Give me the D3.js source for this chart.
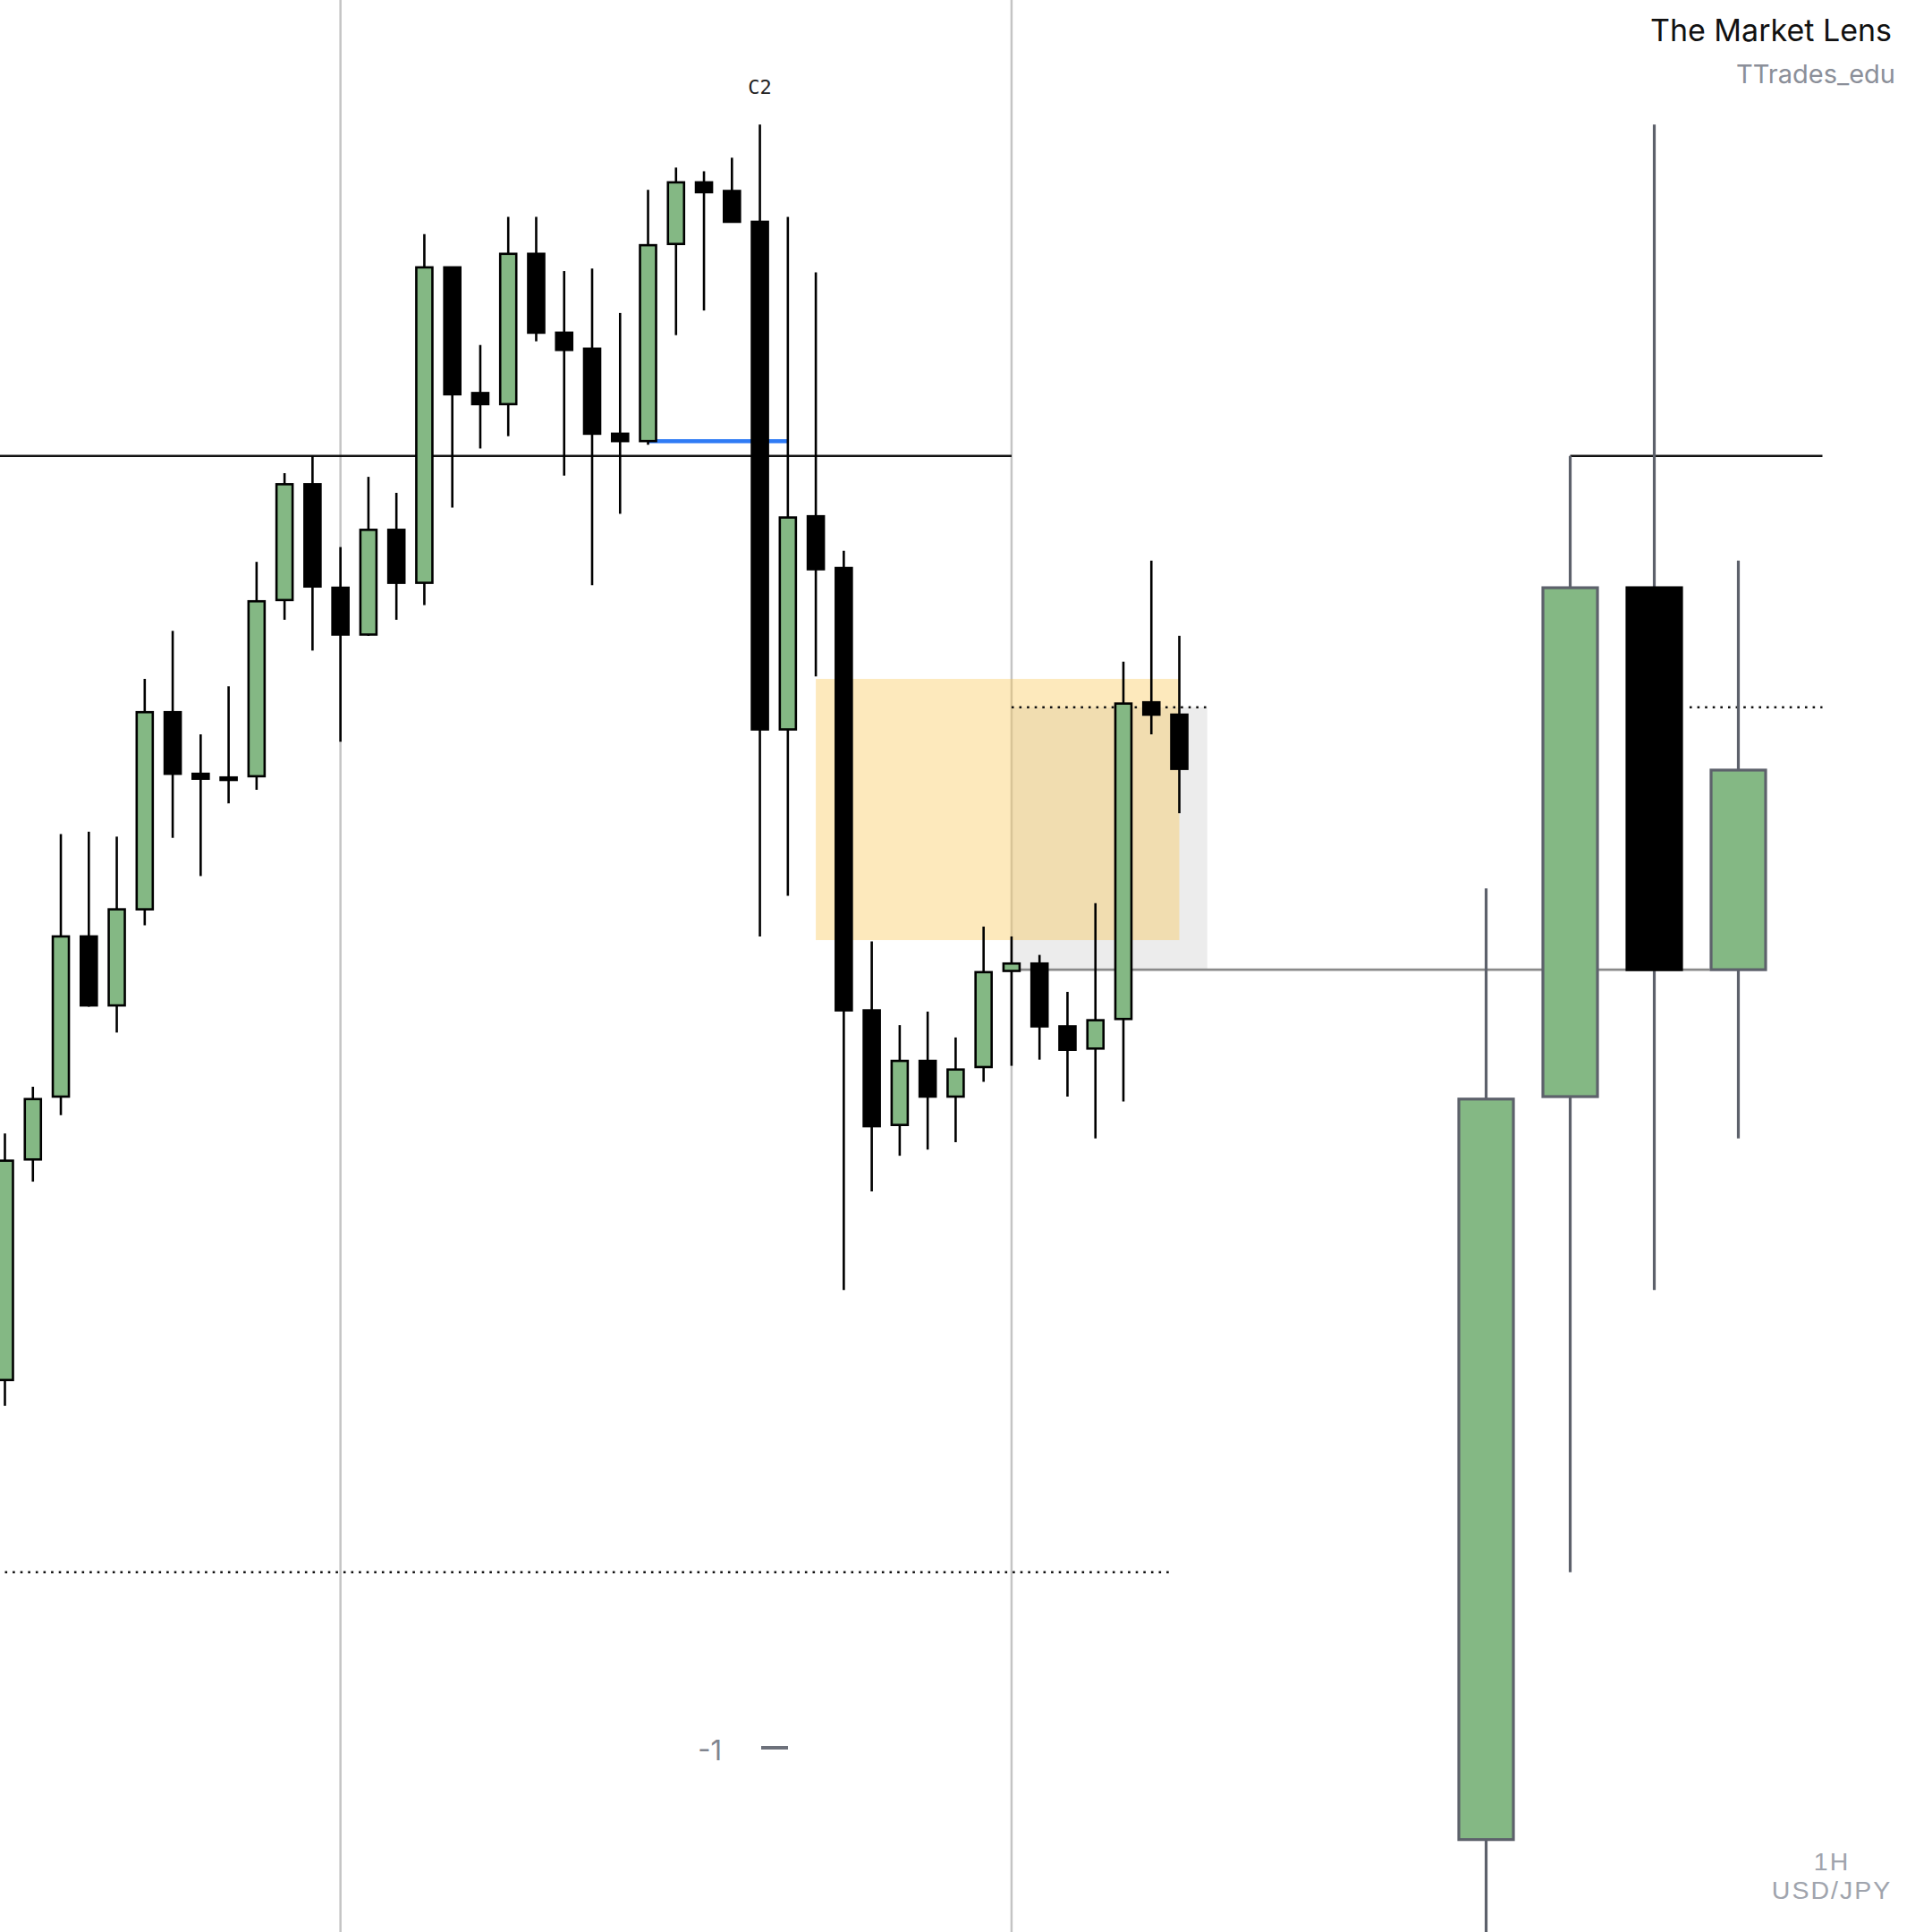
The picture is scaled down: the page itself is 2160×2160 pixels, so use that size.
<!DOCTYPE html>
<html><head><meta charset="utf-8">
<script src="https://cdn.jsdelivr.net/npm/d3@7"></script>
<style>html,body{margin:0;padding:0;background:#fff;} svg{display:block;}</style>
</head><body>
<script>
// ---- Lower timeframe (1H) candles, USD/JPY ----
const ltfOpen  = [150.880,151.059,151.110,151.240,151.184,151.262,151.422,151.372,151.369,151.370,151.513,151.607,151.523,151.485,151.570,151.527,151.783,151.681,151.672,151.794,151.730,151.717,151.648,151.642,151.802,151.852,151.845,151.820,151.408,151.581,151.539,151.180,151.087,151.139,151.110,151.134,151.212,151.218,151.167,151.149,151.173,151.430,151.420];
const ltfHigh  = [151.080,151.118,151.323,151.325,151.321,151.449,151.488,151.404,151.443,151.544,151.616,151.630,151.556,151.613,151.600,151.810,151.783,151.720,151.824,151.824,151.780,151.782,151.746,151.846,151.864,151.861,151.872,151.899,151.824,151.779,151.553,151.236,151.168,151.179,151.158,151.248,151.240,151.225,151.195,151.267,151.463,151.545,151.484];
const ltfLow   = [150.859,151.041,151.095,151.183,151.162,151.249,151.320,151.289,151.348,151.359,151.497,151.472,151.398,151.484,151.497,151.509,151.588,151.636,151.646,151.723,151.614,151.525,151.583,151.639,151.728,151.748,151.820,151.240,151.273,151.451,150.953,151.033,151.062,151.067,151.073,151.122,151.135,151.140,151.110,151.076,151.106,151.404,151.340];
const ltfClose = [151.058,151.108,151.240,151.184,151.262,151.422,151.372,151.368,151.367,151.512,151.607,151.524,151.485,151.570,151.527,151.783,151.680,151.672,151.794,151.730,151.716,151.648,151.642,151.801,151.852,151.844,151.820,151.408,151.580,151.538,151.180,151.086,151.139,151.110,151.132,151.211,151.218,151.167,151.148,151.172,151.429,151.420,151.376];

// ---- Higher timeframe candles (right panel) ----
const htfOpen  = [150.507,151.110,151.523,151.213];
const htfHigh  = [151.279,151.630,151.899,151.545];
const htfLow   = [150.400,150.724,150.953,151.076];
const htfClose = [151.108,151.523,151.213,151.375];

// ---- Annotations (indices on the 1H axis, prices) ----
const sessionLineIdx = [12, 36];
const keyLevel = 151.630;            // black horizontal level
const keyLevelLtfEnd = 36;           // left segment ends at this 1H index
const keyLevelHtfRange = [1, 4];     // right segment (HTF index)
const sweepLevel = 151.642, sweepRange = [23, 28];   // blue line
const fvgPrices = [151.449, 151.237], fvgRange = [29, 42];
const boxPrices = [151.426, 151.213], boxRange = [36, 43];
const midLevel = 151.426, midLtfRange = [36, 43], midHtfRange = [2.42, 4];
const closeLevel = 151.213, closeLtfStart = 36, closeHtfEnd = 2.66;
const lowLevel = 150.724, lowRange = [0, 41.8];
const c2Index = 27, c2Label = "C2";
const footerLines = ["1H", "USD/JPY"];

const W = 2160, H = 2160;
const svg = d3.select("body").append("svg").attr("width", W).attr("height", H);

const y  = d3.scaleLinear().domain([152.000, 150.432]).range([0, H]);
const xL = d3.scaleLinear().domain([0, 42]).range([5.5, 1318.5]);
const xR = d3.scaleLinear().domain([0, 3]).range([1661.5, 1943.5]);

const ltf = ltfOpen.map((o, i) => ({i, o, h: ltfHigh[i], l: ltfLow[i], c: ltfClose[i]}));
const htf = htfOpen.map((o, i) => ({i, o, h: htfHigh[i], l: htfLow[i], c: htfClose[i]}));

const GREEN = "#84b884";

// gray box
svg.append("rect")
  .attr("x", xL(boxRange[0])).attr("width", xL(boxRange[1]) - xL(boxRange[0]))
  .attr("y", y(boxPrices[0])).attr("height", y(boxPrices[1]) - y(boxPrices[0]))
  .attr("fill", "#ececec");

// session vertical lines
svg.selectAll("line.vsess").data(sessionLineIdx).join("line")
  .attr("x1", d => xL(d)).attr("x2", d => xL(d)).attr("y1", 0).attr("y2", H)
  .attr("stroke", "#c4c4c4").attr("stroke-width", 2.5);

// FVG box (semi-transparent orange)
svg.append("rect")
  .attr("x", xL(fvgRange[0])).attr("width", xL(fvgRange[1]) - xL(fvgRange[0]))
  .attr("y", y(fvgPrices[0])).attr("height", y(fvgPrices[1]) - y(fvgPrices[0]))
  .attr("fill", "rgb(250,196,74)").attr("fill-opacity", 0.37);

// key level (black)
svg.append("line").attr("x1", 0).attr("x2", xL(keyLevelLtfEnd))
  .attr("y1", y(keyLevel)).attr("y2", y(keyLevel))
  .attr("stroke", "#111").attr("stroke-width", 2.6);
svg.append("line").attr("x1", xR(keyLevelHtfRange[0])).attr("x2", xR(keyLevelHtfRange[1]))
  .attr("y1", y(keyLevel)).attr("y2", y(keyLevel))
  .attr("stroke", "#111").attr("stroke-width", 2.6);

// close level (gray)
svg.append("line").attr("x1", xL(closeLtfStart)).attr("x2", xR(closeHtfEnd))
  .attr("y1", y(closeLevel)).attr("y2", y(closeLevel))
  .attr("stroke", "#8a8a8a").attr("stroke-width", 2.6);

// dotted levels
const dot = {"stroke": "#111", "stroke-width": 2.6, "stroke-dasharray": "2.6,6"};
function dotted(x1, x2, p) {
  const l = svg.append("line").attr("x1", x1).attr("x2", x2).attr("y1", y(p)).attr("y2", y(p));
  Object.entries(dot).forEach(([k, v]) => l.attr(k, v));
}
dotted(xL(midLtfRange[0]), xL(midLtfRange[1]), midLevel);
dotted(xR(midHtfRange[0]), xR(midHtfRange[1]), midLevel);
dotted(xL(lowRange[0]), xL(lowRange[1]), lowLevel);

// blue sweep line
svg.append("line").attr("x1", xL(sweepRange[0])).attr("x2", xL(sweepRange[1]))
  .attr("y1", y(sweepLevel)).attr("y2", y(sweepLevel))
  .attr("stroke", "#2f7bf5").attr("stroke-width", 4.5);

// LTF candles
const gL = svg.append("g");
gL.selectAll("line.wick").data(ltf).join("line")
  .attr("x1", d => xL(d.i)).attr("x2", d => xL(d.i))
  .attr("y1", d => y(d.h)).attr("y2", d => y(d.l))
  .attr("stroke", "#000").attr("stroke-width", 2.6);
gL.selectAll("rect.body").data(ltf).join("rect")
  .attr("x", d => xL(d.i) - 9).attr("width", 18)
  .attr("y", d => y(Math.max(d.o, d.c)))
  .attr("height", d => Math.max(2, Math.abs(y(d.o) - y(d.c))))
  .attr("fill", d => d.c >= d.o ? GREEN : "#000")
  .attr("stroke", "#000").attr("stroke-width", 2.6);

// HTF candles
const gR = svg.append("g");
gR.selectAll("line.wick").data(htf).join("line")
  .attr("x1", d => xR(d.i)).attr("x2", d => xR(d.i))
  .attr("y1", d => y(d.h)).attr("y2", d => y(d.l))
  .attr("stroke", "#5d616b").attr("stroke-width", 3.2);
gR.selectAll("rect.body").data(htf).join("rect")
  .attr("x", d => xR(d.i) - 30.5).attr("width", 61)
  .attr("y", d => y(Math.max(d.o, d.c)))
  .attr("height", d => Math.abs(y(d.o) - y(d.c)))
  .attr("fill", d => d.c >= d.o ? GREEN : "#000")
  .attr("stroke", d => d.c >= d.o ? "#5d616b" : "#000").attr("stroke-width", 3.2);

// Texts
svg.append("text").attr("x", xL(c2Index)).attr("y", 105).attr("text-anchor", "middle")
  .attr("font-family", "DejaVu Sans Mono").attr("font-size", 22).attr("fill", "#222").text(c2Label);
svg.append("text").attr("x", 2115).attr("y", 46).attr("text-anchor", "end")
  .attr("font-family", "Inter").attr("font-size", 34).attr("fill", "#111").text("The Market Lens");
svg.append("text").attr("x", 2119).attr("y", 93).attr("text-anchor", "end")
  .attr("font-family", "Inter").attr("font-size", 29).attr("fill", "#8b8f99").text("TTrades_edu");
svg.selectAll("text.foot").data(footerLines).join("text")
  .attr("x", 2048).attr("y", (d, i) => 2091 + i * 32.4)
  .attr("text-anchor", "middle")
  .attr("font-family", "Liberation Sans").attr("font-size", 28.5)
  .attr("letter-spacing", 2).attr("fill", "#a0a4ad").text(d => d);
svg.append("text").attr("x", 807).attr("y", 1968).attr("text-anchor", "end")
  .attr("font-family", "Inter").attr("font-size", 31).attr("fill", "#80848e").text("-1");
svg.append("line").attr("x1", 851).attr("x2", 881).attr("y1", 1954).attr("y2", 1954)
  .attr("stroke", "#6d717b").attr("stroke-width", 4);
</script>
</body></html>
